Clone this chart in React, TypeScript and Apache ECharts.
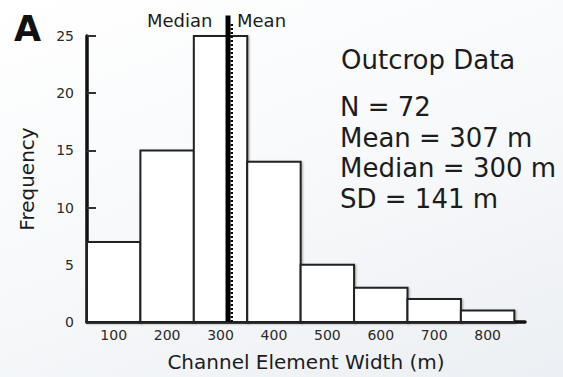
import React, { useEffect, useRef } from "react";
import * as echarts from "echarts";

const binStarts = [50, 150, 250, 350, 450, 550, 650, 750];
const binEnds = [150, 250, 350, 450, 550, 650, 750, 850];
const counts = [7, 15, 25, 14, 5, 3, 2, 1];
const xTickValues = [100, 200, 300, 400, 500, 600, 700, 800];
const medianLinePos = 314;
const meanLinePos = 321;
const statLines = ["N = 72", "Mean = 307 m", "Median = 300 m", "SD = 141 m"];

const FONT = "DejaVu Sans";
const TXT = "#1c1c1c";

export default function App() {
  const ref = useRef<HTMLDivElement>(null);
  useEffect(() => {
    const chart = echarts.init(ref.current!, null, { renderer: "svg" });
    const data = binStarts.map((s, i) => [s, binEnds[i], counts[i]]);
    const statY = [107, 138, 168, 199];
    chart.setOption({
      animation: false,
      grid: { left: 87, right: 38, top: 36, bottom: 54 },
      xAxis: {
        type: "value",
        min: 50,
        max: 870,
        name: "Channel Element Width (m)",
        nameLocation: "middle",
        nameGap: 30,
        nameTextStyle: { fontFamily: FONT, fontSize: 20, color: TXT },
        axisLine: { show: true, lineStyle: { color: "#111", width: 3.5 } },
        axisTick: { show: false },
        splitLine: { show: false },
        axisLabel: {
          customValues: xTickValues,
          fontFamily: FONT,
          fontSize: 14,
          color: "#2a2a2a",
          margin: 6,
        },
      },
      yAxis: {
        type: "value",
        min: 0,
        max: 25,
        interval: 5,
        name: "Frequency",
        nameLocation: "middle",
        nameGap: 50,
        nameTextStyle: { fontFamily: FONT, fontSize: 20, color: TXT },
        axisLine: { show: true, lineStyle: { color: "#111", width: 3.5 } },
        axisTick: { show: true, inside: true, length: 9, lineStyle: { color: "#333", width: 2 } },
        splitLine: { show: false },
        axisLabel: { fontFamily: FONT, fontSize: 14, color: "#2a2a2a", margin: 13 },
      },
      series: [
        {
          type: "custom",
          data,
          encode: { x: [0, 1], y: 2 },
          renderItem: (params: any, api: any) => {
            const p0 = api.coord([api.value(0), 0]);
            const p1 = api.coord([api.value(1), api.value(2)]);
            return {
              type: "rect",
              shape: { x: p0[0], y: p1[1], width: p1[0] - p0[0], height: p0[1] - p1[1] },
              style: {
                fill: "#ffffff",
                stroke: "#222",
                lineWidth: 2,
                shadowColor: "rgba(0,0,0,0.35)",
                shadowBlur: 2,
                shadowOffsetX: 1,
                shadowOffsetY: 1,
              },
            };
          },
          z: 2,
        },
        {
          type: "line",
          data: [[medianLinePos, 0], [medianLinePos, 26.8]],
          symbol: "none",
          clip: false,
          lineStyle: { color: "#000", width: 5 },
          z: 4,
        },
        {
          type: "line",
          data: [[meanLinePos, 0], [meanLinePos, 26.2]],
          symbol: "none",
          clip: false,
          lineStyle: { color: "#000", width: 2.5, type: [2, 2] },
          z: 4,
        },
      ],
      graphic: [
        {
          type: "text",
          x: 14,
          y: 29,
          style: { text: "A", font: `bold 35px ${FONT}`, fill: "#111", verticalAlign: "middle" },
        },
        {
          type: "text",
          x: 147,
          y: 20,
          style: { text: "Median", font: `18px ${FONT}`, fill: TXT, verticalAlign: "middle" },
        },
        {
          type: "text",
          x: 237,
          y: 20,
          style: { text: "Mean", font: `18px ${FONT}`, fill: TXT, verticalAlign: "middle" },
        },
        {
          type: "text",
          x: 341,
          y: 60,
          style: { text: "Outcrop Data", font: `26px ${FONT}`, fill: TXT, verticalAlign: "middle" },
        },
        ...statLines.map((t, i) => ({
          type: "text",
          x: 340,
          y: statY[i],
          style: { text: t, font: `26px ${FONT}`, fill: TXT, verticalAlign: "middle" },
        })),
      ],
    });
    return () => chart.dispose();
  }, []);
  return (
    <div
      ref={ref}
      style={{
        position: "absolute",
        left: 0,
        top: 0,
        width: 563,
        height: 377,
        background: "linear-gradient(160deg, #ffffff 0%, #f6f8fa 55%, #eceff3 100%)",
      }}
    />
  );
}
